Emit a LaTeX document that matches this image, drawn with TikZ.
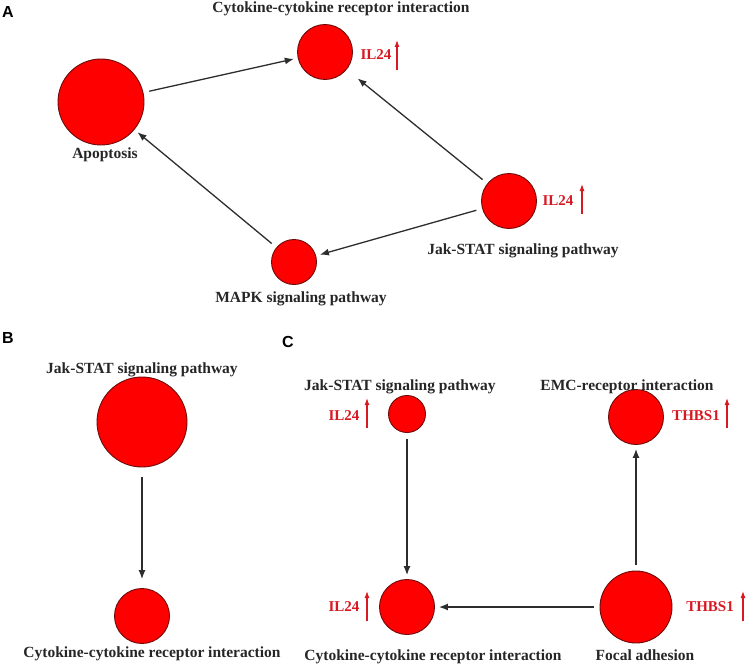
\documentclass[tikz,border=0pt]{standalone}
\usepackage{fontspec}
\setmainfont{Liberation Serif}
\setsansfont{Liberation Sans}
\usetikzlibrary{arrows.meta}

\definecolor{ringred}{RGB}{110,10,10}
\definecolor{genered}{RGB}{215,25,35}
\definecolor{edgegray}{RGB}{45,45,45}

\begin{document}
\begin{tikzpicture}[x=1bp,y=-1bp,
  pathway/.style={draw=ringred,fill=red,circle,line width=0.9bp,inner sep=0pt},
  lbl/.style={anchor=base,inner sep=0pt,text=black!85,font=\fontsize{15.5bp}{18bp}\selectfont\bfseries},
  gene/.style={anchor=base,inner sep=0pt,text=genered,font=\fontsize{15bp}{18bp}\selectfont\bfseries},
  panel/.style={anchor=base west,inner sep=0pt,font=\sffamily\bfseries\fontsize{16bp}{18bp}\selectfont},
  link/.style={-{Latex[length=9bp,width=7bp]},line width=1.3bp,edgegray,shorten <=6bp,shorten >=4bp},
  rise/.style={-{Latex[length=7bp,width=5bp]},line width=1.2bp,genered}]

\useasboundingbox (0,0) rectangle (749,664);

% panel A
\node[panel] (pA) at (2,18) {A};
\node[pathway,minimum size=86bp] (apo) at (101,102) {};
\node[pathway,minimum size=55bp] (cytA) at (325,52) {};
\node[pathway,minimum size=55bp] (jakA) at (509,201) {};
\node[pathway,minimum size=45bp] (mapk) at (294,262) {};

\node[lbl] (cytAl) at (341,13) {Cytokine-cytokine receptor interaction};
\node[lbl] (apol) at (105,158) {Apoptosis};
\node[lbl] (jakAl) at (523,254) {Jak-STAT signaling pathway};
\node[lbl] (mapkl) at (301,302) {MAPK signaling pathway};
\node[gene] (geneA1) at (376,60) {IL24};
\node[gene] (geneA2) at (558,205) {IL24};

% panel B
\node[panel] (pB) at (2,343) {B};
\node[pathway,minimum size=90bp] (jakB) at (142,422) {};
\node[pathway,minimum size=55bp] (cytB) at (142,616) {};
\node[lbl] (jakBl) at (142,373) {Jak-STAT signaling pathway};
\node[lbl] (cytBl) at (152,657) {Cytokine-cytokine receptor interaction};

% panel C
\node[panel] (pC) at (282,347) {C};
\node[pathway,minimum size=37bp] (jakC) at (407,414) {};
\node[pathway,minimum size=55bp] (emc) at (636,417) {};
\node[pathway,minimum size=55bp] (cytC) at (407,607) {};
\node[pathway,minimum size=72bp] (focal) at (636,607) {};

\node[lbl] (jakCl) at (400,390) {Jak-STAT signaling pathway};
\node[lbl] (emcl) at (627,390) {EMC-receptor interaction};
\node[lbl] (cytCl) at (433,660) {Cytokine-cytokine receptor interaction};
\node[lbl] (focall) at (645,660) {Focal adhesion};
\node[gene] (geneC1) at (344,420) {IL24};
\node[gene] (geneC2) at (696,420) {THBS1};
\node[gene] (geneC3) at (344,611) {IL24};
\node[gene] (geneC4) at (710,611) {THBS1};

% edges
\foreach \a/\b in {apo/cytA,jakA/mapk,mapk/apo,jakC/cytC,focal/emc,focal/cytC}{
	\draw[link](\a)--(\b);
}
\draw[link,shorten >=14bp](jakA)--(cytA);
\draw[link,shorten <=10bp,shorten >=9bp](jakB)--(cytB);

% up arrows
\foreach \n/\x/\y in {uA1/397/55,uA2/582/199,uC1/367/413,uC2/727/413,uC3/367/606,uC4/743/606}{
	\coordinate(\n s) at (\x,\y+15);
	\coordinate(\n e) at (\x,\y-15);
	\draw[rise](\n s)--(\n e);
}

\end{tikzpicture}
\end{document}
